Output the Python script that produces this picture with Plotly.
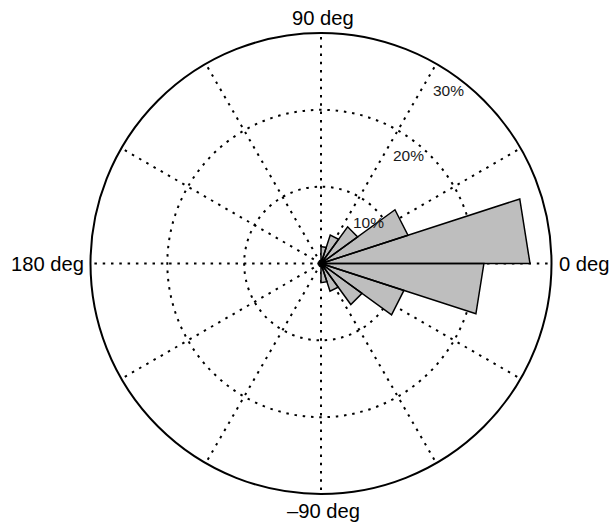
import plotly.graph_objects as go

# Bin edges (degrees) and bin percentages (rose histogram, 20 bins of 18 deg)
bin_edges = list(range(0, 361, 18))
bin_pct = [27.2, 11.9, 5.9, 3.9, 2.2,      # 0..90
           0.4, 0.35, 0.3, 0.3, 0.35,      # 90..180
           0.35, 0.3, 0.3, 0.35, 0.4,      # 180..270
           2.5, 3.8, 6.6, 11.35, 21.2]     # 270..360

ring_ticks = [10, 20, 30]
ring_labels = ["10%", "20%", "30%"]
axis_labels = ["0 deg", "90 deg", "180 deg", "\u201390 deg"]

W, H = 613, 524
cx, cy, R = 321.0, 263.5, 230.5

r_pts, th_pts = [], []
for i, v in enumerate(bin_pct):
    lo, hi = bin_edges[i], bin_edges[i + 1]
    r_pts += [0, v, v, 0, None]
    th_pts += [lo, lo, hi, lo, None]

fig = go.Figure()
fig.add_trace(go.Scatterpolar(
    r=r_pts, theta=th_pts, mode="lines", fill="toself",
    fillcolor="#BEBEBE", line=dict(color="black", width=1.5),
    hoverinfo="skip", showlegend=False,
))

dots = "2.5px,5.8px"
fig.update_layout(
    width=W, height=H,
    margin=dict(l=0, r=0, t=0, b=0),
    paper_bgcolor="white",
    showlegend=False,
    polar=dict(
        domain=dict(x=[(cx - R) / W, (cx + R) / W],
                    y=[(H - cy - R) / H, (H - cy + R) / H]),
        bgcolor="white",
        angularaxis=dict(rotation=0, direction="counterclockwise",
                         tickmode="linear", tick0=0, dtick=30,
                         showticklabels=False, ticks="",
                         showline=True, linecolor="black", linewidth=2,
                         showgrid=True, gridcolor="black", gridwidth=2,
                         griddash=dots),
        radialaxis=dict(range=[0, ring_ticks[-1]], tickvals=ring_ticks[:-1],
                        showticklabels=False, ticks="", showline=False,
                        showgrid=True, gridcolor="black", gridwidth=2,
                        griddash=dots),
    ),
)

font_big = dict(family="Liberation Sans, Arial, sans-serif", size=20.2, color="black")
font_small = dict(family="Liberation Sans, Arial, sans-serif", size=15.5, color="#1a1a1a")

# axis direction labels (pixel positions)
ax_pos = [(557, 263.5, "left"), (323, 18, "center"), (86, 263.5, "right"), (323, 510.5, "center")]
for (px, py, xa), txt in zip(ax_pos, axis_labels):
    fig.add_annotation(x=px / W, y=1 - py / H, xref="paper", yref="paper",
                       text=txt, showarrow=False, xanchor=xa, yanchor="middle",
                       font=font_big)

# ring labels
lab_pos = [(368, 222), (408, 156), (448, 90)]
for (px, py), txt in zip(lab_pos, ring_labels):
    fig.add_annotation(x=px / W, y=1 - py / H, xref="paper", yref="paper",
                       text=txt, showarrow=False, xanchor="center", yanchor="middle",
                       font=font_small)

fig.write_html("out.html", config={"displayModeBar": False},
               post_script="document.body.style.margin='0';document.body.style.overflow='hidden';")
